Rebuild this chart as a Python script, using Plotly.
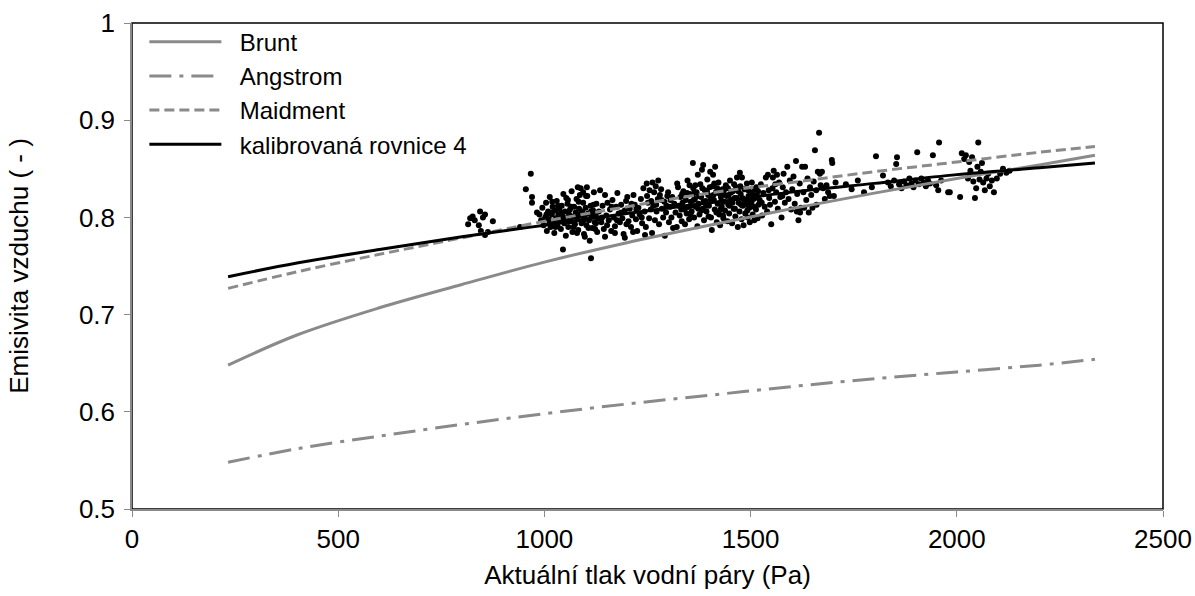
import plotly.graph_objects as go

# Model curves: vapour pressure (Pa) and emissivity read at selected points
curve_pressure = [233, 400, 600, 800, 1000, 1200, 1400, 1600, 1800, 2000, 2200, 2335]
brunt = [0.648, 0.679, 0.707, 0.731, 0.754, 0.774, 0.792, 0.809, 0.825, 0.840, 0.854, 0.864]
angstrom = [0.548, 0.562, 0.575, 0.587, 0.598, 0.608, 0.617, 0.626, 0.634, 0.641, 0.648, 0.654]
maidment = [0.727, 0.744, 0.762, 0.779, 0.796, 0.811, 0.825, 0.836, 0.847, 0.857, 0.867, 0.873]
kalibrovana = [0.739, 0.753, 0.767, 0.780, 0.792, 0.804, 0.815, 0.826, 0.835, 0.844, 0.851, 0.856]

# Measured points (pressure Pa, emissivity), grouped by pressure band
obs_low = [
    (815, 0.793), (820, 0.799), (826, 0.801), (831, 0.797), (841, 0.792), (844, 0.806),
    (846, 0.786), (851, 0.800), (856, 0.803), (856, 0.782), (863, 0.785), (875, 0.796),
    (941, 0.790), (955, 0.829), (967, 0.845), (970, 0.821), (970, 0.815), (982, 0.805),
    (1045, 0.767), (1113, 0.758),
]
obs_1000 = [
    (988, 0.803), (992, 0.797), (995, 0.810), (998, 0.792), (1002, 0.800), (1004, 0.815),
    (1006, 0.786), (1009, 0.806), (1011, 0.798), (1013, 0.821), (1015, 0.790), (1018, 0.803),
    (1020, 0.811), (1022, 0.795), (1024, 0.784), (1026, 0.807), (1028, 0.799), (1030, 0.817),
    (1032, 0.791), (1034, 0.803), (1036, 0.809), (1038, 0.796), (1040, 0.788), (1042, 0.812),
    (1044, 0.801), (1046, 0.824), (1048, 0.794), (1050, 0.806), (1052, 0.781), (1054, 0.799),
    (1056, 0.814), (1058, 0.790), (1060, 0.803), (1062, 0.808), (1064, 0.796), (1066, 0.827),
    (1068, 0.785), (1070, 0.801), (1072, 0.811), (1074, 0.793), (1076, 0.805), (1078, 0.819),
    (1080, 0.798), (1082, 0.787), (1084, 0.809), (1086, 0.802), (1088, 0.830), (1090, 0.794),
    (1092, 0.806), (1094, 0.815), (1096, 0.783), (1098, 0.800), (1100, 0.810), (1102, 0.792),
    (1104, 0.822), (1106, 0.804), (1108, 0.797), (1110, 0.776), (1112, 0.812), (1114, 0.801),
    (1116, 0.789), (1118, 0.807), (1120, 0.826), (1122, 0.795), (1124, 0.803), (1126, 0.814),
    (1128, 0.785), (1130, 0.799), (1081, 0.831), (1103, 0.831), (1094, 0.826), (1086, 0.823),
    (1079, 0.784), (1098, 0.780), (1123, 0.788), (1057, 0.818), (1017, 0.805), (1035, 0.797),
    (1005, 0.803), (1012, 0.794), (1019, 0.816), (1027, 0.790), (1033, 0.812), (1041, 0.805),
    (1047, 0.799), (1053, 0.820), (1059, 0.796), (1065, 0.811), (1071, 0.790), (1077, 0.802),
    (1083, 0.816), (1089, 0.805), (1095, 0.797), (1101, 0.822), (1107, 0.789), (1113, 0.806),
    (1119, 0.813), (1125, 0.794),
]
obs_1200 = [
    (1132, 0.806), (1135, 0.828), (1138, 0.795), (1141, 0.812), (1144, 0.788), (1147, 0.823),
    (1150, 0.802), (1153, 0.815), (1156, 0.797), (1159, 0.808), (1162, 0.786), (1165, 0.818),
    (1168, 0.800), (1171, 0.791), (1174, 0.811), (1177, 0.825), (1180, 0.804), (1183, 0.795),
    (1186, 0.813), (1189, 0.799), (1192, 0.783), (1195, 0.807), (1198, 0.817), (1201, 0.821),
    (1204, 0.796), (1207, 0.809), (1210, 0.790), (1213, 0.802), (1216, 0.823), (1219, 0.813),
    (1222, 0.798), (1225, 0.786), (1228, 0.810), (1231, 0.803), (1234, 0.819), (1237, 0.794),
    (1240, 0.830), (1243, 0.806), (1246, 0.790), (1248, 0.835), (1251, 0.815), (1254, 0.799),
    (1255, 0.828), (1258, 0.808), (1261, 0.784), (1262, 0.836), (1264, 0.812), (1266, 0.826),
    (1268, 0.797), (1270, 0.832), (1272, 0.806), (1275, 0.819), (1276, 0.838), (1278, 0.793),
    (1280, 0.823), (1283, 0.829), (1285, 0.809), (1288, 0.800), (1291, 0.816), (1292, 0.781),
    (1295, 0.805), (1298, 0.822), (1300, 0.826), (1302, 0.795), (1305, 0.811), (1308, 0.800),
    (1310, 0.821), (1312, 0.789), (1315, 0.814), (1318, 0.805), (1147, 0.780), (1171, 0.784),
    (1195, 0.779), (1215, 0.785), (1244, 0.782), (1140, 0.800), (1152, 0.792), (1163, 0.811),
    (1176, 0.797), (1187, 0.805), (1199, 0.793), (1211, 0.814), (1223, 0.808), (1236, 0.800),
    (1249, 0.822), (1259, 0.817), (1271, 0.813), (1284, 0.818), (1296, 0.812), (1306, 0.818),
]
obs_1400 = [
    (1322, 0.835), (1324, 0.831), (1321, 0.790), (1326, 0.812), (1328, 0.802), (1330, 0.821),
    (1333, 0.796), (1335, 0.815), (1337, 0.827), (1339, 0.808), (1341, 0.793), (1343, 0.818),
    (1345, 0.804), (1347, 0.838), (1349, 0.811), (1351, 0.798), (1353, 0.824), (1355, 0.816),
    (1357, 0.806), (1360, 0.856), (1361, 0.830), (1363, 0.800), (1365, 0.819), (1367, 0.811),
    (1369, 0.826), (1371, 0.791), (1372, 0.844), (1374, 0.814), (1376, 0.803), (1378, 0.834),
    (1380, 0.821), (1382, 0.849), (1384, 0.809), (1385, 0.854), (1387, 0.797), (1389, 0.828),
    (1391, 0.817), (1393, 0.806), (1395, 0.839), (1397, 0.823), (1399, 0.812), (1402, 0.847),
    (1404, 0.800), (1406, 0.787), (1408, 0.832), (1409, 0.844), (1411, 0.818), (1413, 0.808),
    (1414, 0.852), (1416, 0.826), (1418, 0.795), (1420, 0.814), (1422, 0.836), (1424, 0.803),
    (1426, 0.792), (1428, 0.821), (1430, 0.811), (1432, 0.829), (1434, 0.799), (1436, 0.816),
    (1438, 0.807), (1440, 0.833), (1442, 0.822), (1444, 0.796), (1446, 0.813), (1448, 0.804),
    (1450, 0.838), (1452, 0.818), (1455, 0.794), (1457, 0.827), (1459, 0.809), (1461, 0.820),
    (1463, 0.801), (1465, 0.831), (1467, 0.841), (1469, 0.790), (1471, 0.815), (1473, 0.806),
    (1474, 0.846), (1476, 0.824), (1478, 0.798), (1479, 0.841), (1481, 0.812), (1483, 0.792),
    (1485, 0.829), (1487, 0.804), (1489, 0.818), (1491, 0.835), (1493, 0.800), (1495, 0.822),
    (1497, 0.810), (1498, 0.795), (1500, 0.826), (1502, 0.815), (1503, 0.836), (1505, 0.803),
    (1507, 0.819), (1509, 0.797), (1511, 0.829), (1513, 0.808), (1515, 0.823), (1517, 0.799),
    (1519, 0.813), (1332, 0.808), (1346, 0.825), (1356, 0.812), (1366, 0.833), (1375, 0.822),
    (1386, 0.816), (1394, 0.827), (1403, 0.819), (1412, 0.835), (1421, 0.825), (1429, 0.817),
    (1437, 0.829), (1447, 0.823), (1456, 0.815), (1466, 0.820), (1475, 0.832), (1484, 0.818),
    (1494, 0.828), (1504, 0.824), (1514, 0.831), (1352, 0.833), (1362, 0.818), (1381, 0.807),
    (1398, 0.801), (1417, 0.805), (1433, 0.802), (1449, 0.812), (1462, 0.809), (1477, 0.813),
    (1492, 0.807), (1508, 0.811), (1334, 0.824), (1344, 0.810), (1354, 0.803), (1364, 0.825),
    (1373, 0.809), (1383, 0.830), (1392, 0.812), (1401, 0.831), (1410, 0.823), (1419, 0.830),
    (1427, 0.808), (1435, 0.824), (1445, 0.830), (1453, 0.826), (1460, 0.834), (1470, 0.827),
    (1480, 0.820), (1490, 0.813), (1499, 0.818), (1510, 0.820), (1518, 0.827),
]
obs_1600 = [
    (1522, 0.818), (1525, 0.834), (1528, 0.802), (1531, 0.825), (1534, 0.811), (1537, 0.841),
    (1540, 0.806), (1542, 0.844), (1545, 0.820), (1547, 0.813), (1550, 0.793), (1553, 0.830),
    (1554, 0.841), (1556, 0.848), (1559, 0.816), (1562, 0.826), (1564, 0.844), (1566, 0.809),
    (1569, 0.836), (1572, 0.821), (1575, 0.800), (1578, 0.831), (1580, 0.845), (1583, 0.815),
    (1586, 0.826), (1589, 0.852), (1592, 0.819), (1595, 0.838), (1598, 0.808), (1601, 0.829),
    (1604, 0.842), (1607, 0.814), (1610, 0.858), (1613, 0.824), (1616, 0.797), (1619, 0.835),
    (1622, 0.810), (1625, 0.852), (1628, 0.826), (1632, 0.852), (1635, 0.818), (1638, 0.840),
    (1641, 0.805), (1644, 0.831), (1647, 0.823), (1650, 0.810), (1653, 0.837), (1656, 0.869),
    (1659, 0.828), (1663, 0.847), (1666, 0.887), (1668, 0.845), (1670, 0.833), (1673, 0.847),
    (1676, 0.830), (1680, 0.819), (1684, 0.833), (1688, 0.826), (1692, 0.822), (1697, 0.859),
    (1698, 0.856), (1702, 0.822), (1706, 0.836), (1630, 0.810), (1620, 0.805), (1612, 0.806),
    (1660, 0.813), (1527, 0.815), (1544, 0.828), (1560, 0.834), (1577, 0.822),
]
obs_high = [
    (1731, 0.834), (1745, 0.829), (1760, 0.838), (1775, 0.826), (1794, 0.831), (1804, 0.863),
    (1821, 0.843), (1833, 0.836), (1840, 0.832), (1848, 0.838), (1853, 0.855), (1855, 0.862),
    (1860, 0.834), (1866, 0.830), (1872, 0.837), (1878, 0.833), (1885, 0.840), (1890, 0.835),
    (1895, 0.831), (1900, 0.838), (1904, 0.867), (1908, 0.834), (1914, 0.840), (1920, 0.836),
    (1925, 0.832), (1930, 0.838), (1935, 0.835), (1942, 0.864), (1950, 0.833), (1955, 0.828),
    (1957, 0.877), (1962, 0.838), (1979, 0.826), (1983, 0.826), (2008, 0.821), (2012, 0.866),
    (2018, 0.860), (2022, 0.864), (2027, 0.840), (2030, 0.857), (2033, 0.848), (2037, 0.862),
    (2040, 0.837), (2044, 0.820), (2047, 0.830), (2050, 0.852), (2052, 0.877), (2055, 0.839),
    (2058, 0.847), (2061, 0.856), (2064, 0.836), (2068, 0.828), (2072, 0.840), (2076, 0.845),
    (2080, 0.832), (2085, 0.838), (2090, 0.826), (2097, 0.840), (2105, 0.845), (2112, 0.850),
    (2120, 0.846), (2128, 0.848),
]

observations = obs_low + obs_1000 + obs_1200 + obs_1400 + obs_1600 + obs_high
obs_x = [p for p, _ in observations]
obs_y = [e for _, e in observations]

GRAY = "#8a8a8a"
FONT = "Arial, Liberation Sans, sans-serif"
NBSP = "\u00a0"

fig = go.Figure()

fig.add_trace(go.Scatter(
    x=obs_x, y=obs_y, mode="markers", showlegend=False,
    marker=dict(color="black", size=6, line=dict(width=0)),
))

curves = [
    ("Brunt", brunt, GRAY, "solid"),
    ("Angstrom", angstrom, GRAY, "22px,8px,4px,8px"),
    ("Maidment", maidment, GRAY, "10px,5px"),
    ("kalibrovaná rovnice 4", kalibrovana, "black", "solid"),
]
for name, vals, col, dash in curves:
    fig.add_trace(go.Scatter(
        x=curve_pressure, y=vals, mode="lines", name=NBSP * 2 + name,
        line=dict(color=col, width=3, dash=dash, shape="spline", smoothing=1.0),
    ))

fig.update_layout(
    width=1195, height=596,
    margin=dict(l=132, r=32, t=23, b=87),
    paper_bgcolor="white", plot_bgcolor="white",
    font=dict(family=FONT, size=26, color="black"),
    legend=dict(
        x=0.012, y=1.007, xanchor="left", yanchor="top",
        bgcolor="rgba(0,0,0,0)", itemwidth=72,
        font=dict(size=24),
    ),
    shapes=[dict(type="rect", xref="paper", yref="paper", x0=0, y0=0, x1=1, y1=1,
                 line=dict(color="black", width=1.5), layer="below")],
)

fig.update_xaxes(
    range=[0, 2500], tickvals=[0, 500, 1000, 1500, 2000, 2500],
    showline=True, linecolor=GRAY, linewidth=1.5, ticks="outside", ticklen=6,
    tickcolor=GRAY, showgrid=False, zeroline=False, automargin=False,
    title=dict(text="Aktuální tlak vodní páry (Pa)", standoff=13, font=dict(size=26)),
    tickfont=dict(size=26),
)
fig.update_yaxes(
    range=[0.5, 1.0], tickvals=[0.5, 0.6, 0.7, 0.8, 0.9, 1.0],
    ticktext=["0.5", "0.6", "0.7", "0.8", "0.9", "1"],
    showline=True, linecolor=GRAY, linewidth=1.5, ticks="outside", ticklen=6,
    tickcolor=GRAY, showgrid=False, zeroline=False, automargin=False,
    ticklabelstandoff=4,
    title=dict(text="Emisivita vzduchu ( - )", standoff=43, font=dict(size=26)),
    tickfont=dict(size=26),
)

fig.write_html("out.html")
